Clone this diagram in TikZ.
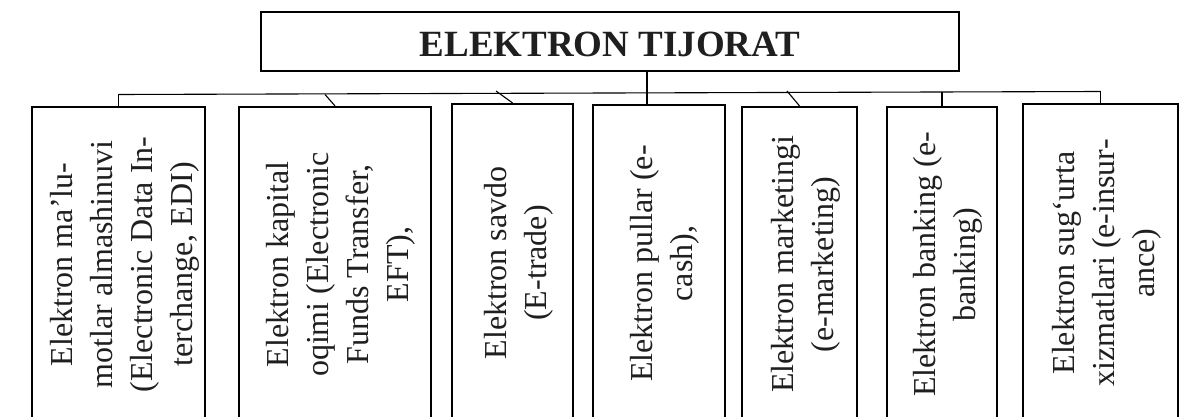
\documentclass[tikz,border=0pt]{standalone}
\usepackage{fontspec}
\usepackage{graphicx}
\setmainfont{Liberation Serif}
\usetikzlibrary{calc}

% vertical (bottom-to-top) multi-line label, set slightly right of centre
\newcommand\vlabel[1]{\hspace*{11pt}\rotatebox{90}{\begin{tabular}{@{}c@{}}#1\end{tabular}}}

\tikzset{
  titlebox/.style={draw, line width=1.6pt, inner sep=0pt,
    text height=45pt, text depth=14pt,
    font=\fontsize{37}{44}\selectfont\bfseries, text=black!88},
  branch/.style={draw, line width=2.2pt, inner sep=0pt,
    font=\fontsize{32}{40}\selectfont, text=black!88},
  link/.style={line width=1.1pt}
}

\begin{document}
\begin{tikzpicture}[x=1pt,y=-1pt]
\useasboundingbox (0,0) rectangle (1185,417);
\clip (0,0) rectangle (1185,417);
\fill[white] (0,0) rectangle (1185,417);

% main heading
\node[titlebox, minimum width=698, minimum height=59] (t) at (610,41.5) {ELEKTRON TIJORAT};

% branch boxes (they run past the lower edge)
\node[branch, minimum width=173, minimum height=315] (e1) at (118.5,264.5)
  {\vlabel{Elektron ma’lu-\\motlar almashinuvi\\(Electronic Data In-\\terchange, EDI)}};
\node[branch, minimum width=192, minimum height=315] (e2) at (335,264.5)
  {\vlabel{Elektron kapital\\oqimi (Electronic\\Funds Transfer,\\EFT),}};
\node[branch, minimum width=121, minimum height=318] (e3) at (512.5,263)
  {\vlabel{Elektron savdo\\(E-trade)}};
\node[branch, minimum width=132, minimum height=317] (e4) at (659,263.5)
  {\vlabel{Elektron pullar (e-\\cash),}};
\node[branch, minimum width=115, minimum height=315] (e5) at (799.5,264.5)
  {\vlabel{Elektron marketingi\\(e-marketing)}};
\node[branch, minimum width=110, minimum height=315] (e6) at (942,264.5)
  {\vlabel{Elektron banking (e-\\banking)}};
\node[branch, minimum width=155, minimum height=318] (e7) at (1100.5,263)
  {\vlabel{Elektron sug‘urta\\xizmatlari (e-insur-\\ance)}};

% distribution line and its taps
\coordinate (busL) at (118.5,94.5);
\coordinate (busR) at (1100.5,91.5);
\coordinate (d2) at (325,94.5);
\coordinate (d3) at (496,91);
\coordinate (d5) at (787,91);
\coordinate (d6) at (942,92);
\coordinate (x4) at (647,0);

\draw[link] (busL) -- (busR);
\draw[link] (busL) -- (e1.north);
\draw[link] (d2) -- (e2.north);
\draw[link] (d3) -- (e3.north);
\draw[link] (d5) -- (e5.north);
\draw[link] (d6) -- (e6.north);
\draw[link] (busR) -- (e7.north);
\draw[link] (t.south -| x4) -- (e4.north -| x4);
\end{tikzpicture}
\end{document}
